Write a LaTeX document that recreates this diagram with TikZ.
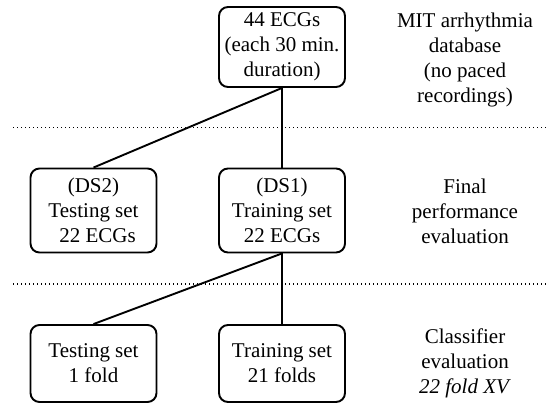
\documentclass[tikz,border=0pt]{standalone}
\usepackage{fontspec}
\setmainfont{Liberation Serif}
\usetikzlibrary{positioning}

\begin{document}
\begin{tikzpicture}[x=1pt,y=-1pt,
    setbox/.style={draw,line width=1.9pt,rounded corners=9pt,minimum width=126pt,
      minimum height=80pt,inner sep=2pt,align=center,font=\fontsize{21}{25}\selectfont},
    stagetext/.style={align=center,font=\fontsize{21}{25}\selectfont},
    link/.style={line width=1.9pt},
    divider/.style={line width=1.2pt,dash pattern=on 1pt off 3pt}]
    \useasboundingbox (0,0) rectangle (547,405);
    % data sets
    \node[setbox] (all) at (282,47) {44 ECGs\\(each 30 min.\\duration)};
    \node[setbox,minimum height=84pt] (ds2) at (93.5,210.5) {(DS2)\\Testing set\\\hspace*{8pt}22 ECGs};
    \node[setbox,minimum height=84pt] (ds1) at (282,210.5) {(DS1)\\Training set\\22 ECGs};
    \node[setbox,minimum height=77pt] (testfold) at (93.5,363.5) {Testing set\\1 fold};
    \node[setbox,minimum height=77pt] (trainfold) at (282,363.5) {Training set\\21 folds};
    % stages
    \node[stagetext] (dbtext) at (465,60) {MIT arrhythmia\\database\\(no paced\\recordings)};
    \node[stagetext] (finaltext) at (465,211) {Final\\performance\\evaluation};
    \node[stagetext] (cvtext) at (465,363) {Classifier\\evaluation\\\textit{22 fold XV}};
    \draw[divider] (13,127.5) -- (547,127.5);
    \draw[divider] (13,284) -- (547,284);
    \draw[link] (all.south) -- (ds2.north);
    \draw[link] (all) -- (ds1);
    \draw[link] (ds1.south) -- (testfold.north);
    \draw[link] (ds1) -- (trainfold);
  \end{tikzpicture}
\end{document}
